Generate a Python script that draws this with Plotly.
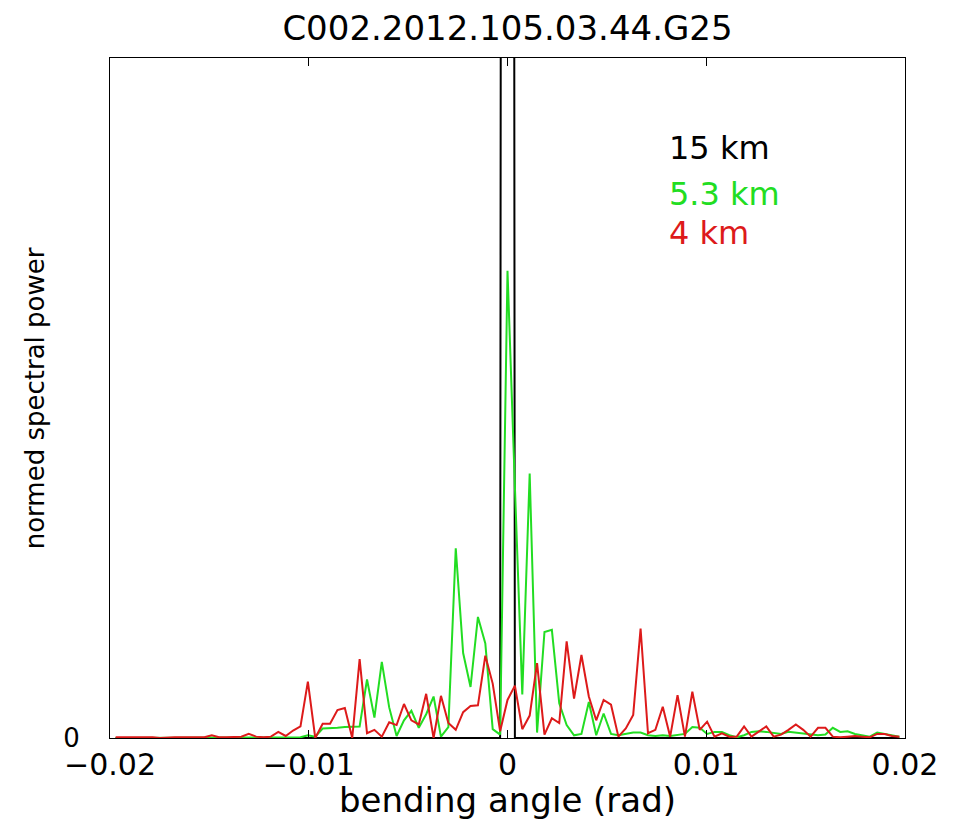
import numpy as np
import plotly.graph_objects as go

# angle grid (rad): index k from -53..53, step 0.000372
step = 0.000372
k_idx = np.arange(-53, 54)
angle = k_idx * step

# 15 km: single spike at zero (goes far off the top)
power_15km = [0.0] * 53 + [12.0] + [0.0] * 53

# 5.3 km (green), k = -53 .. 53
power_5p3km = [
    0.000, 0.000, 0.000, 0.000, 0.000, 0.000, 0.000, 0.000, 0.000, 0.000,  # -53..-44
    0.000, 0.000, 0.000, 0.000, 0.000, 0.000, 0.000, 0.000, 0.000, 0.000,  # -43..-34
    0.000, 0.000, 0.000, 0.000, 0.000, 0.001, 0.004, 0.002, 0.014, 0.014,  # -33..-24
    0.015, 0.016, 0.016, 0.017, 0.086, 0.030, 0.112, 0.045, 0.003, 0.026,  # -23..-14
    0.040, 0.015, 0.035, 0.061, 0.002, 0.016, 0.279, 0.125, 0.075, 0.178,  # -13..-4
    0.139, 0.013, 0.005, 0.687, 0.370, 0.064, 0.389, 0.008, 0.156, 0.159,  # -3..6
    0.051, 0.019, 0.004, 0.006, 0.053, 0.004, 0.036, 0.006, 0.004, 0.006,  # 7..16
    0.008, 0.008, 0.004, 0.003, 0.004, 0.003, 0.004, 0.006, 0.016, 0.015,  # 17..26
    0.006, 0.009, 0.009, 0.004, 0.001, 0.004, 0.009, 0.010, 0.009, 0.007,  # 27..36
    0.006, 0.009, 0.008, 0.007, 0.005, 0.004, 0.005, 0.015, 0.009, 0.010,  # 37..46
    0.006, 0.004, 0.002, 0.008, 0.006, 0.004, 0.002,                       # 47..53
]

# 4 km (red), k = -53 .. 53
power_4km = [
    0.001, 0.001, 0.002, 0.001, 0.001, 0.001, 0.000, 0.001, 0.001, 0.001,  # -53..-44
    0.001, 0.001, 0.001, 0.004, 0.001, 0.001, 0.001, 0.002, 0.006, 0.002,  # -43..-34
    0.001, 0.002, 0.009, 0.003, 0.011, 0.017, 0.083, 0.000, 0.021, 0.021,  # -33..-24
    0.041, 0.044, 0.000, 0.116, 0.007, 0.012, 0.002, 0.023, 0.019, 0.050,  # -23..-14
    0.026, 0.020, 0.065, 0.000, 0.062, 0.022, 0.012, 0.038, 0.047, 0.048,  # -13..-4
    0.121, 0.080, 0.010, 0.056, 0.077, 0.013, 0.033, 0.110, 0.005, 0.029,  # -3..6
    0.022, 0.142, 0.058, 0.122, 0.061, 0.026, 0.056, 0.049, 0.002, 0.014,  # 7..16
    0.034, 0.161, 0.007, 0.012, 0.046, 0.002, 0.063, 0.002, 0.068, 0.012,  # 17..26
    0.024, 0.002, 0.007, 0.002, 0.002, 0.017, 0.002, 0.010, 0.017, 0.002,  # 27..36
    0.005, 0.012, 0.020, 0.012, 0.002, 0.015, 0.015, 0.002, 0.001, 0.002,  # 37..46
    0.003, 0.002, 0.001, 0.006, 0.006, 0.003, 0.002,                       # 47..53
]

x_ticks = [-0.02, -0.01, 0, 0.01, 0.02]
x_ticktext = ["\u22120.02", "\u22120.01", "0", "0.01", "0.02"]
labels = ["15 km", "5.3 km", "4 km"]
colors = ["#000000", "#22dd22", "#dd1a1a"]

FONT = "DejaVu Sans"

fig = go.Figure()
for vals, name, col in zip([power_15km, power_5p3km, power_4km], labels, colors):
    fig.add_trace(go.Scatter(x=angle, y=vals, mode="lines", name=name,
                             line=dict(color=col, width=2), showlegend=False))

legend_y = [0.8676, 0.800, 0.7426]
for name, col, ly in zip(labels, colors, legend_y):
    fig.add_annotation(text=name, xref="paper", yref="paper", x=0.7006, y=ly,
                       xanchor="left", yanchor="middle", showarrow=False,
                       font=dict(family=FONT, size=32, color=col))

# y-axis title placed explicitly
fig.add_annotation(text="normed spectral power", xref="paper", yref="paper",
                   x=-0.094, y=0.5, xanchor="center", yanchor="middle",
                   textangle=-90, showarrow=False,
                   font=dict(family=FONT, size=26, color="black"))

fig.update_layout(
    width=947, height=812,
    margin=dict(l=102, r=50, t=50, b=82),
    paper_bgcolor="white", plot_bgcolor="white",
    font=dict(family=FONT, color="black"),
    title=dict(text="C002.2012.105.03.44.G25", x=0.5, xref="paper",
               xanchor="center", y=1 - 20 / 812, yanchor="middle",
               yref="container", automargin=False,
               font=dict(family=FONT, size=34, color="black")),
    xaxis=dict(range=[-0.02, 0.02], tickvals=x_ticks, ticktext=x_ticktext,
               ticks="inside", ticklen=8, tickcolor="black", mirror="ticks",
               showline=True, linecolor="black", linewidth=1,
               showgrid=False, zeroline=False, automargin=False,
               tickfont=dict(family=FONT, size=30, color="black"),
               title=dict(text="bending angle (rad)", standoff=8,
                          font=dict(family=FONT, size=34, color="black"))),
    yaxis=dict(range=[0, 1], tickvals=[0], ticktext=["0"], ticks="",
               mirror=True, showline=True, linecolor="black", linewidth=1,
               showgrid=False, zeroline=False, ticklabelstandoff=24,
               automargin=False,
               tickfont=dict(family=FONT, size=26, color="black")),
)

fig.write_html("out.html")
